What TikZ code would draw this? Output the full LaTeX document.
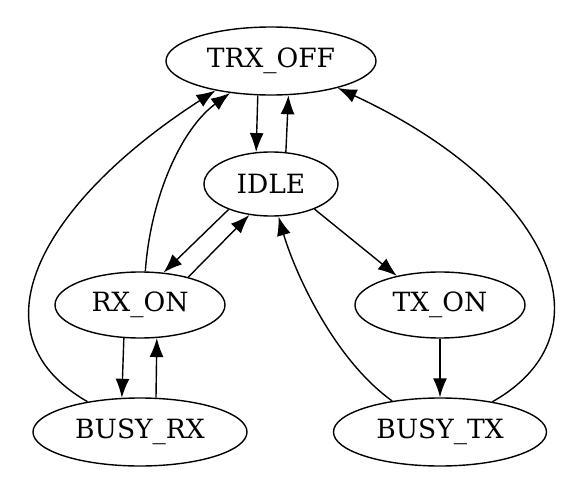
\documentclass[tikz,border=0pt]{standalone}
\usepackage{fontspec}
\setmainfont{DejaVu Serif}
\usepackage{tikz}
\usetikzlibrary{arrows.meta,shapes.geometric,positioning}
\tikzstyle{state} = [draw, ellipse, line width=1.4pt, inner sep=0pt, font=\fontsize{26.5}{30}\selectfont]
\tikzstyle{arrow} = [line width=1.4pt,-{Latex[length=19pt,width=14pt]}]

\begin{document}
\begin{tikzpicture}[x=1pt, y=-1pt]
\useasboundingbox (0,0) rectangle (582,490);

% States
\node[state, minimum width=210pt, minimum height=68pt] (trxoff) at (271,61) {TRX\_OFF};
\node[state, minimum width=134pt, minimum height=64pt] (idle) at (271,184) {IDLE};
\node[state, minimum width=170pt, minimum height=66pt] (rxon) at (140,305) {RX\_ON};
\node[state, minimum width=170pt, minimum height=66pt] (txon) at (440,305) {TX\_ON};
\node[state, minimum width=214pt, minimum height=68pt] (busyrx) at (140,432) {BUSY\_RX};
\node[state, minimum width=213pt, minimum height=68pt] (busytx) at (440,432) {BUSY\_TX};

% Transitions
\draw[arrow] (trxoff.249) -- (idle.115);
\draw[arrow] (idle.65) -- (trxoff.297);
\draw[arrow] (idle.211) -- (rxon.54);
\draw[arrow] (rxon.30) -- (idle.235);
\draw[arrow] (idle.330) -- (txon.146);
\draw[arrow] (rxon.81) .. controls +(5,-72) and +(-50,37) .. (trxoff.218);
\draw[arrow] (busyrx.150) .. controls +(-122,-70) and +(-168,108) .. (trxoff.208);
\draw[arrow] (busytx.30) .. controls +(124,-70) and +(209,97) .. (trxoff.338);
\draw[arrow] (rxon.244) -- (busyrx.118);
\draw[arrow] (busyrx.65) -- (rxon.297);
\draw[arrow] (txon) -- (busytx);
\draw[arrow] (busytx.147) .. controls +(-60,-43) and +(15,52) .. (idle.283);
\end{tikzpicture}
\end{document}
